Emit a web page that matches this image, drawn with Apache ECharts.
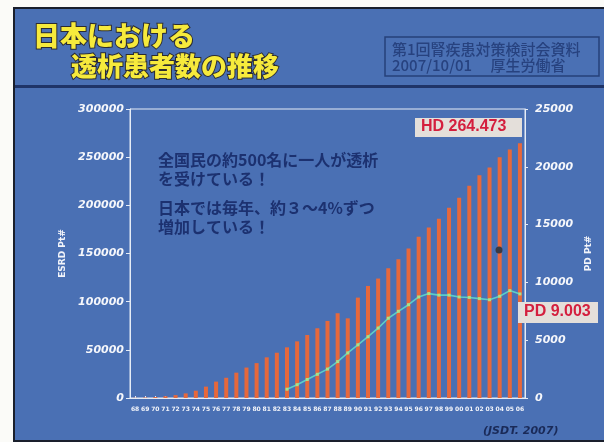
<!DOCTYPE html>
<html>
<head>
<meta charset="utf-8">
<title>日本における透析患者数の推移</title>
<script src="https://cdn.jsdelivr.net/npm/echarts@6/dist/echarts.min.js"></script>
<style>
  html, body { margin: 0; padding: 0; background: #fbfbf8; }
  #chart { width: 604px; height: 442px; }
</style>
</head>
<body>
<div id="chart"></div>
<script>
// years 1968 - 2006
const years = ['68','69','70','71','72','73','74','75','76','77','78','79','80','81','82','83','84','85','86','87',
  '88','89','90','91','92','93','94','95','96','97','98','99','00','01','02','03','04','05','06'];

// total dialysis patients (left axis)
const esrdPatients = [215, 500, 949, 1826, 3000, 4800, 7600, 11800, 17000, 21000,
  26300, 31600, 36200, 42200, 47000, 52600, 58800, 65400, 72400, 80000,
  88000, 82700, 104200, 116300, 124000, 134600, 144000, 155200, 167300, 177100,
  186000, 197500, 208000, 220300, 231100, 239200, 249900, 258000, 264473];

// PD patients (right axis), no data before 1983
const pdPatients = [null, null, null, null, null, null, null, null, null, null,
  null, null, null, null, null, 760, 1150, 1600, 2050, 2500,
  3150, 3900, 4600, 5300, 6050, 6900, 7500, 8070, 8740, 9030,
  8900, 8900, 8740, 8700, 8600, 8500, 8800, 9290, 9003];

const leftTicks = { min: 0, max: 300000, interval: 50000 };
const rightTicks = { min: 0, max: 25000, interval: 5000 };

const slideBlue = '#4a70b4';
const navy = '#1c3170';
const numFont = 'DejaVu Sans';
const jpFont = '"Noto Sans CJK JP", sans-serif';
const plain = v => String(v);

const chart = echarts.init(document.getElementById('chart'));

const options = {
  backgroundColor: slideBlue,
  animation: false,
  grid: { left: 130, right: 79, top: 109, bottom: 44, show: true, borderColor: '#e6ecf6', borderWidth: 1 },
  xAxis: {
    type: 'category',
    data: years,
    axisLine: { lineStyle: { color: '#e6ecf6' } },
    axisTick: { show: true, inside: true, length: 2, alignWithLabel: true, lineStyle: { color: '#e6ecf6' } },
    axisLabel: { interval: 0, color: '#f2f4fa', fontSize: 6, fontWeight: 'bold', fontFamily: numFont, margin: 8 }
  },
  yAxis: [
    {
      type: 'value',
      min: leftTicks.min, max: leftTicks.max, interval: leftTicks.interval,
      name: 'ESRD Pt#',
      nameLocation: 'middle',
      nameGap: 57,
      nameRotate: 90,
      nameTextStyle: { color: '#f2f4fa', fontSize: 9, fontWeight: 'bold', fontFamily: numFont },
      axisLine: { show: true, lineStyle: { color: '#e6ecf6' } },
      axisTick: { show: true, length: 4, lineStyle: { color: '#e6ecf6' } },
      splitLine: { show: false },
      axisLabel: { formatter: plain, color: '#f6f7fb', fontSize: 11, fontWeight: 'bold', fontStyle: 'italic', fontFamily: numFont, margin: 6 }
    },
    {
      type: 'value',
      position: 'right',
      min: rightTicks.min, max: rightTicks.max, interval: rightTicks.interval,
      name: 'PD Pt#',
      nameLocation: 'middle',
      nameGap: 50,
      nameRotate: 90,
      nameTextStyle: { color: '#f2f4fa', fontSize: 9, fontWeight: 'bold', fontFamily: numFont },
      axisLine: { show: true, lineStyle: { color: '#e6ecf6' } },
      axisTick: { show: true, length: 3, lineStyle: { color: '#e6ecf6' } },
      splitLine: { show: false },
      axisLabel: { formatter: plain, color: '#f6f7fb', fontSize: 11, fontWeight: 'bold', fontStyle: 'italic', fontFamily: numFont, margin: 10 }
    }
  ],
  series: [
    {
      name: 'HD',
      type: 'bar',
      data: esrdPatients,
      barWidth: 4,
      itemStyle: { color: '#e6683c' }
    },
    {
      name: 'PD',
      type: 'line',
      yAxisIndex: 1,
      data: pdPatients,
      symbol: 'rect',
      symbolSize: 3,
      lineStyle: { color: '#5ccfc6', width: 1.6 },
      itemStyle: { color: '#a6e28c' },
      z: 3
    }
  ],
  graphic: [
    // white margins and slide border
    { type: 'rect', shape: { x: 0, y: 0, width: 604, height: 7 }, style: { fill: '#fbfbf8' } },
    { type: 'rect', shape: { x: 0, y: 0, width: 13, height: 442 }, style: { fill: '#fbfbf8' } },
    { type: 'rect', shape: { x: 13, y: 7, width: 591, height: 2 }, style: { fill: '#1a1f2c' } },
    { type: 'rect', shape: { x: 13, y: 7, width: 2, height: 435 }, style: { fill: '#1a1f2c' } },
    { type: 'rect', shape: { x: 13, y: 440, width: 591, height: 2 }, style: { fill: '#1a1f2c' } },
    { type: 'rect', shape: { x: 15, y: 85, width: 589, height: 3 }, style: { fill: '#1f3468' } },
    // title
    {
      type: 'text', left: 32, top: 21,
      style: { text: '日本における', fill: '#f6ea3c', font: '900 27px ' + jpFont,
        stroke: '#2b2b30', lineWidth: 2, shadowColor: 'rgba(0,0,0,0.5)', shadowOffsetX: 2, shadowOffsetY: 2, shadowBlur: 1 }
    },
    {
      type: 'text', left: 70, top: 52,
      style: { text: '透析患者数の推移', fill: '#f6ea3c', font: '900 26px ' + jpFont,
        stroke: '#2b2b30', lineWidth: 2, shadowColor: 'rgba(0,0,0,0.5)', shadowOffsetX: 2, shadowOffsetY: 2, shadowBlur: 1 }
    },
    // source box
    { type: 'rect', shape: { x: 385, y: 37, width: 214, height: 39 }, style: { fill: 'none', stroke: '#26407a', lineWidth: 1.5 } },
    {
      type: 'text', left: 392, top: 42,
      style: { text: '第1回腎疾患対策検討会資料', fill: '#27427f', font: '500 15px ' + jpFont }
    },
    {
      type: 'text', left: 392, top: 58,
      style: { text: '2007/10/01　 厚生労働省', fill: '#27427f', font: '500 15px ' + jpFont }
    },
    // notes
    {
      type: 'text', left: 158, top: 150,
      style: { text: '全国民の約500名に一人が透析\nを受けている！', fill: navy, font: 'bold 16px ' + jpFont, lineHeight: 19 }
    },
    {
      type: 'text', left: 158, top: 198,
      style: { text: '日本では毎年、約３～4%ずつ\n増加している！', fill: navy, font: 'bold 16px ' + jpFont, lineHeight: 19 }
    },
    // value labels
    { type: 'rect', shape: { x: 415, y: 118, width: 107, height: 19 }, style: { fill: '#e4dfda' }, z: 10 },
    {
      type: 'text', left: 421, top: 119, z: 11,
      style: { text: 'HD 264.473', fill: '#d41f3e', font: 'bold 16px "Liberation Sans"' }
    },
    { type: 'rect', shape: { x: 518, y: 302, width: 80, height: 21 }, style: { fill: '#e4dfda' }, z: 10 },
    {
      type: 'text', left: 524, top: 304, z: 11,
      style: { text: 'PD 9.003', fill: '#d41f3e', font: 'bold 16px "Liberation Sans"' }
    },
    // scan spot
    { type: 'circle', shape: { cx: 499, cy: 250, r: 3.5 }, style: { fill: '#3a3a44' }, z: 10 },
    // source
    {
      type: 'text', left: 483, top: 426,
      style: { text: '(JSDT. 2007)', fill: '#1a2a58', font: 'italic bold 11px ' + numFont }
    }
  ]
};

chart.setOption(options);
</script>
</body>
</html>
